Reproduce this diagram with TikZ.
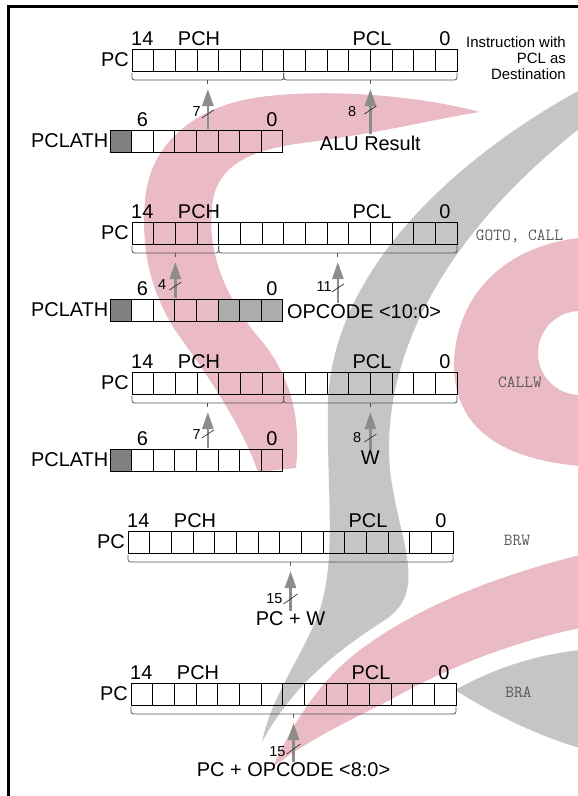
\documentclass[tikz,border=0pt]{standalone}
\usepackage{fontspec}
\setmainfont{Liberation Sans}
\usepackage{tikz}
\usetikzlibrary{arrows.meta,positioning,calc}
\usepackage{xcolor}
\definecolor{cPink}{RGB}{234,186,197}
\definecolor{cMark}{RGB}{197,197,197}
\definecolor{cArrow}{RGB}{140,140,140}
\definecolor{cDark}{RGB}{128,128,128}
\definecolor{cUnused}{RGB}{172,172,172}
\definecolor{cBrace}{RGB}{85,85,85}
\definecolor{cMono}{RGB}{90,90,90}
\tikzset{
  regbit/.style={rectangle,draw=black,line width=0.8bp,minimum width=21.67bp,
                 minimum height=22bp,inner sep=0pt,outer sep=0pt},
  lathbit/.style={regbit,minimum width=21.6bp},
  reglabel/.style={font=\fontsize{20}{22}\selectfont,inner sep=0pt},
  cntlabel/.style={font=\fontsize{14.5}{16}\selectfont,inner sep=0pt,anchor=east},
  instlabel/.style={font=\ttfamily\fontsize{17}{19}\selectfont,text=cMono,
                    inner sep=0pt,text depth=0pt},
  brc/.style={draw=cBrace,line width=0.8bp},
  arr/.style={-{Triangle[length=17bp,width=11bp]},line width=2.6bp,draw=cArrow,
              shorten >=5bp,shorten <=1bp},
  buswidth/.style={draw=black!80,line width=0.7bp}
}

% PC register: prefix, left edge, top edge
\newcommand{\pcreg}[3]{%
  \foreach \bt in {0,...,14}
    \node[regbit] (#1\bt) at ({#2+(14.5-\bt)*21.67},{#3+11}) {};
  \node[reglabel,anchor=east] (#1name) at ({#2-3},{#3+11}) {PC};
  \node[reglabel,anchor=west] (#1msb) at ({#2-1},{#3-10}) {14};
  \node[reglabel] (#1pch) at ({#2+67},{#3-10}) {PCH};
  \node[reglabel] (#1pcl) at ({#2+240},{#3-10}) {PCL};
  \node[reglabel] (#1lsb) at ({#2+313},{#3-10}) {0};
}
% PCLATH register: prefix, left edge, top edge, bit/fill list
\newcommand{\lathreg}[4]{%
  \foreach \bt/\fc in {#4}
    \node[lathbit,fill=\fc] (#1\bt) at ({#2+(7.5-\bt)*21.6},{#3+11}) {};
  \node[reglabel,anchor=east] (#1name) at ({#2-1.5},{#3+11}) {PCLATH};
  \node[reglabel] (#1msb) at ({#2+32.4},{#3-10}) {6};
  \node[reglabel] (#1lsb) at ({#2+162},{#3-10}) {0};
}
% brace under bits #1..#2, tip coordinate #3
\newcommand{\regbrace}[3]{%
  \draw[brc,rounded corners=2.5bp] ($(#1.south west)+(0,1.5)$)
    |- ($(#2.south east)+(0,9)$) -- ($(#2.south east)+(0,1.5)$);
  \draw[brc] ($(#1.south west)!.5!(#2.south east)+(0,9)$) -- ++(0,4) coordinate (#3);
}

\begin{document}
\begin{tikzpicture}[x=1bp,y=-1bp]
  \useasboundingbox (0,0) rectangle (578,796);

  % watermark
  \fill[cMark] (580,90) .. controls (470,150) and (335,260) .. (328,400)
    .. controls (326,490) and (338,560) .. (318,615)
    .. controls (300,660) and (272,695) .. (262,742)
    .. controls (290,690) and (330,655) .. (385,620)
    .. controls (430,590) and (398,540) .. (390,470)
    .. controls (382,380) and (420,255) .. (580,128) -- cycle;
  \fill[cMark] (455,690) .. controls (495,668) and (535,655) .. (580,650)
    -- (580,748) .. controls (535,735) and (490,712) .. (455,690) -- cycle;
  \fill[cPink] (480,112) .. controls (420,96) and (330,88) .. (260,97)
    .. controls (200,105) and (150,140) .. (145,200)
    .. controls (141,250) and (150,290) .. (175,330)
    .. controls (200,365) and (240,420) .. (258,472)
    -- (296,468)
    .. controls (300,425) and (295,385) .. (265,345)
    .. controls (225,300) and (205,250) .. (213,200)
    .. controls (220,160) and (260,148) .. (310,142)
    .. controls (380,133) and (440,118) .. (480,112) -- cycle;
  \fill[cPink,even odd rule] (580,238) .. controls (510,245) and (458,290) .. (454,360)
    .. controls (452,420) and (490,458) .. (580,466) -- cycle
    (580,353) circle[radius=42];
  \fill[cPink] (580,555) .. controls (500,575) and (420,605) .. (360,650)
    .. controls (320,680) and (295,720) .. (272,768)
    .. controls (300,745) and (340,725) .. (390,700)
    .. controls (440,672) and (500,645) .. (580,628) -- cycle;

  \draw[line width=2.5bp] (8.5,800) -- (8.5,6.5) -- (585,6.5);

  % PCL as destination
  \pcreg{pa}{132}{49}
  \lathreg{la}{110}{130}{7/cDark,6/none,5/none,4/none,3/none,2/none,1/none,0/none}
  \regbrace{pa14}{pa8}{tipA1}
  \regbrace{pa7}{pa0}{tipA2}
  \node[reglabel] (alu) at (tipA2 |- 0,143) {ALU Result};
  \node[font=\fontsize{15}{16}\selectfont,align=right,anchor=east,inner sep=0pt]
    (instA) at (566,58) {Instruction with\\PCL as\\Destination};
  \draw[arr] (tipA1 |- la4.north) -- (tipA1);
  \draw[arr] (tipA2 |- alu.north) -- (tipA2);
  \draw[buswidth] ($(tipA1 |- 0,114)+(-6,4)$) -- ++(12,-8);
  \draw[buswidth] ($(tipA2 |- 0,110)+(-6,4)$) -- ++(12,-8);
  \node[cntlabel] (nA1) at ($(tipA1 |- 0,112)+(-7,0)$) {7};
  \node[cntlabel] (nA2) at ($(tipA2 |- 0,112)+(-14,0)$) {8};

  % GOTO, CALL
  \pcreg{pb}{132}{222}
  \lathreg{lb}{110}{299}{7/cDark,6/none,5/none,4/none,3/none,2/cUnused,1/cUnused,0/cUnused}
  \regbrace{pb14}{pb11}{tipB1}
  \regbrace{pb10}{pb0}{tipB2}
  \node[reglabel,anchor=west] (opc) at (287,311.5) {OPCODE <10:0>};
  \node[instlabel] (instB) at (519.5,235) {GOTO, CALL};
  \draw[arr] (tipB1 |- lb4.north) -- (tipB1);
  \draw[arr] (tipB2 |- opc.north) -- (tipB2);
  \draw[buswidth] ($(tipB1 |- 0,286)+(-6,4)$) -- ++(12,-8);
  \draw[buswidth] ($(tipB2 |- 0,288)+(-6,4)$) -- ++(12,-8);
  \node[cntlabel] (nB1) at ($(tipB1 |- 0,285)+(-9,0)$) {4};
  \node[cntlabel] (nB2) at ($(tipB2 |- 0,287)+(-6,0)$) {11};

  % CALLW
  \pcreg{pc}{132}{372}
  \lathreg{lc}{110}{449}{7/cDark,6/none,5/none,4/none,3/none,2/none,1/none,0/none}
  \regbrace{pc14}{pc8}{tipC1}
  \regbrace{pc7}{pc0}{tipC2}
  \node[reglabel] (wreg) at (tipC2 |- 0,458) {W};
  \node[instlabel] (instC) at (520,382) {CALLW};
  \draw[arr] (tipC1 |- lc4.north) -- (tipC1);
  \draw[arr] (tipC2 |- wreg.north) -- (tipC2);
  \draw[buswidth] ($(tipC1 |- 0,434)+(-6,4)$) -- ++(12,-8);
  \draw[buswidth] ($(tipC2 |- 0,438)+(-6,4)$) -- ++(12,-8);
  \node[cntlabel] (nC1) at ($(tipC1 |- 0,435)+(-7,0)$) {7};
  \node[cntlabel] (nC2) at ($(tipC2 |- 0,438)+(-9,0)$) {8};

  % BRW
  \pcreg{pd}{128}{531}
  \regbrace{pd14}{pd0}{tipD}
  \node[reglabel] (pcw) at (tipD |- 0,619) {PC + W};
  \node[instlabel] (instD) at (517,540) {BRW};
  \draw[arr] (tipD |- pcw.north) -- (tipD);
  \draw[buswidth] ($(tipD |- 0,599)+(-7,5)$) -- ++(14,-10);
  \node[cntlabel] (nD) at ($(tipD |- 0,598.5)+(-8,0)$) {15};

  % BRA
  \pcreg{pe}{131}{683}
  \regbrace{pe14}{pe0}{tipE}
  \node[reglabel] (pco) at (tipE |- 0,770) {PC + OPCODE <8:0>};
  \node[instlabel] (instE) at (518.5,692) {BRA};
  \draw[arr] (tipE |- pco.north) -- (tipE);
  \draw[buswidth] ($(tipE |- 0,749)+(-7,5)$) -- ++(14,-10);
  \node[cntlabel] (nE) at ($(tipE |- 0,752)+(-8,0)$) {15};
\end{tikzpicture}
\end{document}
